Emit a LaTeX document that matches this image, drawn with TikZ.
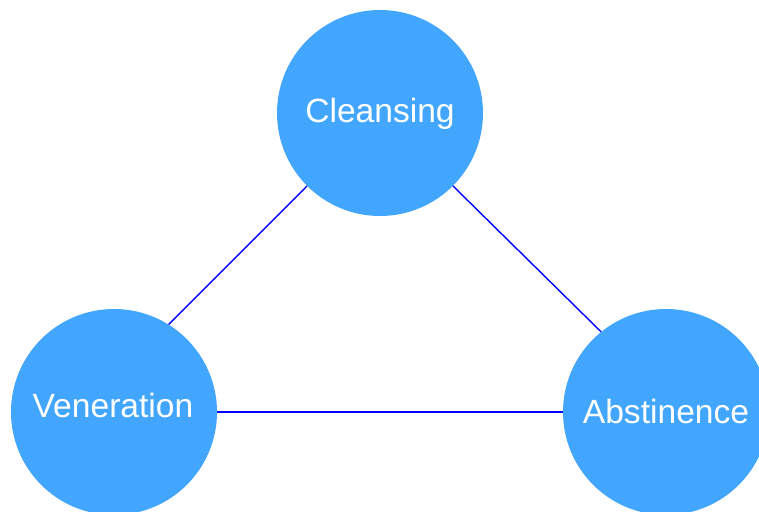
\documentclass[tikz,border=0pt]{standalone}
\usepackage{fontspec}
\setmainfont{Liberation Sans}
\definecolor{bubble}{RGB}{66,166,255}
\definecolor{link}{RGB}{0,0,255}
\begin{document}
\begin{tikzpicture}[x=1pt,y=-1pt,
  bubble/.style={circle,fill=bubble,draw=none,minimum size=206pt,inner sep=0pt},
  caption/.style={anchor=base,text=white,inner sep=0pt,font=\fontsize{33.6}{40}\selectfont},
  link/.style={draw=link,line width=1.4pt}]
  \useasboundingbox (0,0) rectangle (759,511);
  \begin{scope}
    \clip (0,0) rectangle (759,511);
    % circles
    \node[bubble] (C) at (380,113) {};
    \node[bubble] (V) at (114,412) {};
    \node[bubble] (A) at (666,412) {};
    % connectors
    \draw[link] (C.225) -- (V.58);
    \draw[link] (C.-45) -- (A.129);
    \draw[link] (V.east) -- (A.west);
    % captions
    \node[caption] (Ct) at (380,122) {Cleansing};
    \node[caption] (Vt) at (113,417) {Veneration};
    \node[caption] (At) at (666,423) {Abstinence};
  \end{scope}
\end{tikzpicture}
\end{document}
